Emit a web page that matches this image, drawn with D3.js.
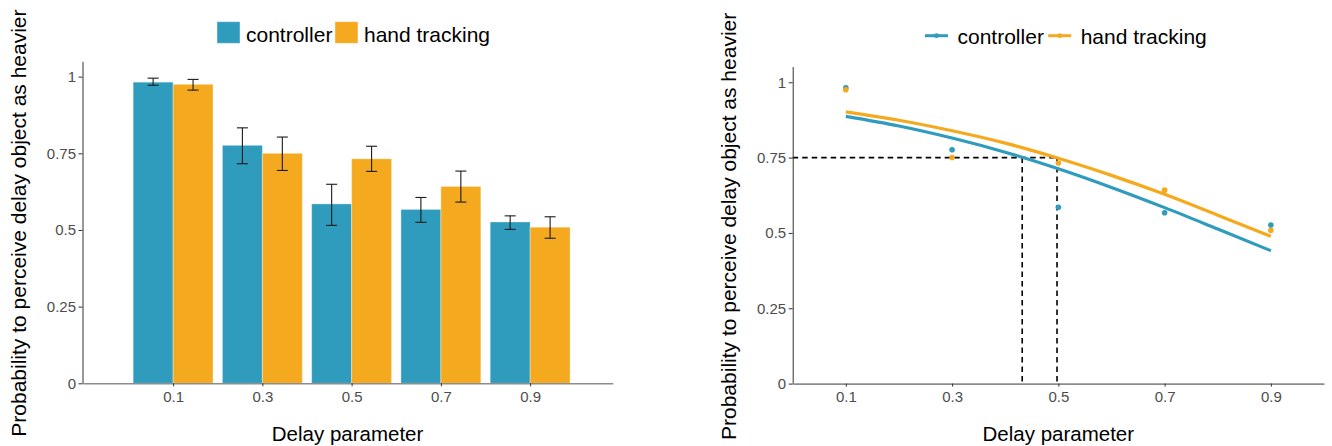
<!DOCTYPE html>
<html>
<head>
<meta charset="utf-8">
<script src="https://cdn.jsdelivr.net/npm/d3@7"></script>
<style>
  html, body { margin: 0; padding: 0; background: #fff; }
  svg { display: block; font-family: "Liberation Sans", Arial, sans-serif; }
</style>
</head>
<body>
<svg id="chart" width="1332" height="446"></svg>
<script>
// ---------- data ----------
const delays = [0.1, 0.3, 0.5, 0.7, 0.9];
const seriesNames = ["controller", "hand tracking"];
const controllerMean = [0.982, 0.776, 0.585, 0.567, 0.526];
const controllerLow  = [0.972, 0.716, 0.515, 0.525, 0.502];
const controllerHigh = [0.995, 0.833, 0.649, 0.606, 0.546];
const handMean = [0.975, 0.750, 0.732, 0.642, 0.509];
const handLow  = [0.956, 0.694, 0.691, 0.591, 0.473];
const handHigh = [0.991, 0.803, 0.773, 0.692, 0.543];
// fitted curves
const fitX = [0.1, 0.2, 0.3, 0.4, 0.5, 0.6, 0.7, 0.8, 0.9];
const controllerFit = [0.887, 0.855, 0.815, 0.768, 0.713, 0.651, 0.584, 0.513, 0.441];
const handFit = [0.902, 0.874, 0.839, 0.798, 0.748, 0.691, 0.628, 0.559, 0.489];
const threshold = 0.75;
const thresholdX = [0.432, 0.4975];
const yTicks = [0, 0.25, 0.5, 0.75, 1];
const yTickLabels = ["0", "0.25", "0.5", "0.75", "1"];
const xTickLabels = ["0.1", "0.3", "0.5", "0.7", "0.9"];

const colors = ["#2f9bbd", "#f5a91f"];
const svg = d3.select("#chart");

// ---------- scales ----------
const xL = d3.scaleLinear().domain([-0.103, 1.085]).range([82.5, 612.7]);
const yL = d3.scaleLinear().domain([0, 1.05]).range([383.3, 61.3]);
const xR = d3.scaleLinear().domain([0, 1]).range([792.7, 1324]);
const yR = d3.scaleLinear().domain([0, 1.052]).range([383.6, 66.6]);

function drawAxes(x, y) {
  const yAx = svg.append("g")
    .attr("transform", `translate(${x.range()[0]},0)`)
    .call(d3.axisLeft(y).tickValues(yTicks)
      .tickFormat((d, i) => yTickLabels[i]).tickSize(4).tickSizeOuter(0).tickPadding(2.5));
  yAx.select(".domain").attr("stroke", "#333").attr("stroke-width", 1);
  yAx.selectAll(".tick line").attr("stroke", "#333");
  yAx.selectAll(".tick text").attr("fill", "#4d4d4d").style("font-size", "15px");

  const xAx = svg.append("g")
    .attr("transform", `translate(0,${y.range()[0]})`)
    .call(d3.axisBottom(x).tickValues(delays)
      .tickFormat((d, i) => xTickLabels[i]).tickSize(3).tickSizeOuter(0).tickPadding(5));
  xAx.select(".domain").attr("stroke", "#8c8c8c").attr("stroke-width", 1.6);
  xAx.selectAll(".tick line").attr("stroke", "#333");
  xAx.selectAll(".tick text").attr("fill", "#4d4d4d").style("font-size", "15px");
  return [yAx, xAx];
}

// ---------- left panel: bars ----------
const bw = 0.0895;
const barData = [];
delays.forEach((d, i) => {
  barData.push({ x0: d - bw, x1: d, v: controllerMean[i], lo: controllerLow[i], hi: controllerHigh[i], s: 0 });
  barData.push({ x0: d, x1: d + bw, v: handMean[i], lo: handLow[i], hi: handHigh[i], s: 1 });
});

svg.append("g").selectAll("rect").data(barData).join("rect")
  .attr("x", d => xL(d.x0))
  .attr("width", d => xL(d.x1) - xL(d.x0))
  .attr("y", d => yL(d.v))
  .attr("height", d => yL(0) - yL(d.v))
  .attr("fill", d => colors[d.s])
  .attr("stroke", "#ffffff").attr("stroke-opacity", 0.35).attr("stroke-width", 1);

const eb = svg.append("g").attr("stroke", "#1a1a1a").attr("stroke-width", 1.1);
barData.forEach(d => {
  const cx = xL((d.x0 + d.x1) / 2);
  const hw = 5.5;
  eb.append("line").attr("x1", cx).attr("x2", cx).attr("y1", yL(d.lo)).attr("y2", yL(d.hi));
  eb.append("line").attr("x1", cx - hw).attr("x2", cx + hw).attr("y1", yL(d.lo)).attr("y2", yL(d.lo));
  eb.append("line").attr("x1", cx - hw).attr("x2", cx + hw).attr("y1", yL(d.hi)).attr("y2", yL(d.hi));
});

drawAxes(xL, yL);

// ---------- right panel: fitted curves ----------
const line = d3.line().x(d => xR(d[0])).y(d => yR(d[1])).curve(d3.curveMonotoneX);
const fits = [controllerFit, handFit];
const means = [controllerMean, handMean];

// dashed threshold lines
const dash = svg.append("g").attr("stroke", "#000").attr("stroke-width", 1.6)
  .attr("stroke-dasharray", "5.5,4").attr("fill", "none");
dash.append("line").attr("x1", xR(0)).attr("x2", xR(d3.max(thresholdX)))
  .attr("y1", yR(threshold)).attr("y2", yR(threshold));
thresholdX.forEach(t => {
  dash.append("line").attr("x1", xR(t)).attr("x2", xR(t))
    .attr("y1", yR(threshold)).attr("y2", yR(0));
});

fits.forEach((f, s) => {
  svg.append("path")
    .datum(fitX.map((x, i) => [x, f[i]]))
    .attr("d", line)
    .attr("fill", "none")
    .attr("stroke", colors[s])
    .attr("stroke-width", 3.2);
});
means.forEach((m, s) => {
  svg.append("g").selectAll("circle").data(delays.map((d, i) => [d, m[i]])).join("circle")
    .attr("cx", d => xR(d[0])).attr("cy", d => yR(d[1])).attr("r", 2.8)
    .attr("fill", colors[s]);
});

drawAxes(xR, yR);

// ---------- titles ----------
function xTitle(x) {
  svg.append("text").attr("x", (x.range()[0] + x.range()[1]) / 2).attr("y", 441)
    .attr("text-anchor", "middle").style("font-size", "20.5px").attr("fill", "#000")
    .text("Delay parameter");
}
xTitle(xL); xTitle(xR);

function yTitle(xb, ystart) {
  svg.append("text").attr("transform", `translate(${xb},${ystart}) rotate(-90)`)
    .attr("text-anchor", "start").style("font-size", "21px").attr("fill", "#000")
    .text("Probability to perceive delay object as heavier");
}
yTitle(25.5, 436.7);
yTitle(735.5, 440);

// ---------- legends ----------
// left: filled squares
(function () {
  let x = 217;
  seriesNames.forEach((name, s) => {
    svg.append("rect").attr("x", x).attr("y", 21.7).attr("width", 23).attr("height", 21.6)
      .attr("fill", colors[s]).attr("stroke", "#ffffff").attr("stroke-opacity", 0.4);
    const t = svg.append("text").attr("x", x + 29).attr("y", 41.5)
      .style("font-size", "21px").attr("fill", "#000").text(name);
    x = x + 29 + t.node().getComputedTextLength() + 2.6;
  });
})();
// right: line keys with point
(function () {
  let x = 925;
  seriesNames.forEach((name, s) => {
    svg.append("line").attr("x1", x).attr("x2", x + 23).attr("y1", 35.7).attr("y2", 35.7)
      .attr("stroke", colors[s]).attr("stroke-width", 3);
    svg.append("circle").attr("cx", x + 11.5).attr("cy", 35.7).attr("r", 2.4).attr("fill", colors[s]);
    const t = svg.append("text").attr("x", x + 32.5).attr("y", 44.2)
      .style("font-size", "21px").attr("fill", "#000").text(name);
    x = x + 32.5 + t.node().getComputedTextLength() + 4.3;
  });
})();
</script>
</body>
</html>
